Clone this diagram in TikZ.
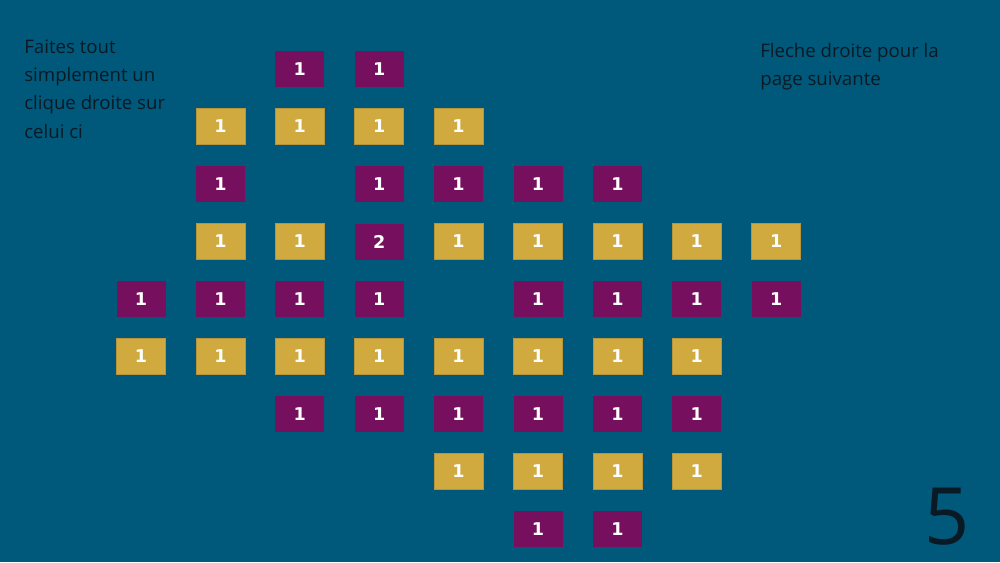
\documentclass[tikz,border=0pt]{standalone}
\usepackage{fontspec}
\setmainfont{Open Sans}
\newfontfamily\tilefont{DejaVu Sans}
\usetikzlibrary{positioning}
\definecolor{pagebg}{HTML}{00587A}
\definecolor{tileyellow}{HTML}{D0AA3F}
\definecolor{tileyellowedge}{HTML}{B8953A}
\definecolor{tilepurple}{HTML}{76105E}
\definecolor{notetext}{HTML}{0A1A24}

\begin{document}
\begin{tikzpicture}[
    x=0.02cm, y=-0.02cm,
    tile/.style={minimum width=49*0.02cm, minimum height=36*0.02cm, inner sep=0pt,
                 font=\tilefont\bfseries\fontsize{10}{10}\selectfont, text=white},
    gold/.style={tile, fill=tileyellow, draw=tileyellowedge, line width=0.4pt},
    plum/.style={tile, fill=tilepurple},
    note/.style={font=\fontsize{10.6}{16.2}\selectfont, text=notetext, align=left, inner sep=0pt}
]
    % page background
    \fill[pagebg] (0,0) rectangle (1000,562);
    \useasboundingbox (0,0) rectangle (1000,562);

    % instructions
    \node[note, anchor=north west] (hint) at (24,39) {Faites tout\\simplement un\\clique droite sur\\celui ci};
    \node[note, anchor=north west] (next) at (760,43) {Fleche droite pour la\\page suivante};
    \node[font=\fontsize{45}{45}\selectfont, text=notetext, inner sep=0pt] (pagenum) at (947,517) {5};

    % tiles: row / column / style / value
    \foreach \r/\c/\s/\v in {
        1/3/plum/1, 1/4/plum/1,
        2/2/gold/1, 2/3/gold/1, 2/4/gold/1, 2/5/gold/1,
        3/2/plum/1, 3/4/plum/1, 3/5/plum/1, 3/6/plum/1, 3/7/plum/1,
        4/2/gold/1, 4/3/gold/1, 4/4/plum/2, 4/5/gold/1, 4/6/gold/1, 4/7/gold/1, 4/8/gold/1, 4/9/gold/1,
        5/1/plum/1, 5/2/plum/1, 5/3/plum/1, 5/4/plum/1, 5/6/plum/1, 5/7/plum/1, 5/8/plum/1, 5/9/plum/1,
        6/1/gold/1, 6/2/gold/1, 6/3/gold/1, 6/4/gold/1, 6/5/gold/1, 6/6/gold/1, 6/7/gold/1, 6/8/gold/1,
        7/3/plum/1, 7/4/plum/1, 7/5/plum/1, 7/6/plum/1, 7/7/plum/1, 7/8/plum/1,
        8/5/gold/1, 8/6/gold/1, 8/7/gold/1, 8/8/gold/1,
        9/6/plum/1, 9/7/plum/1}
        \node[\s] (t-\r-\c) at ({141+79.4*(\c-1)}, {69+57.5*(\r-1)}) {\v};
\end{tikzpicture}
\end{document}
